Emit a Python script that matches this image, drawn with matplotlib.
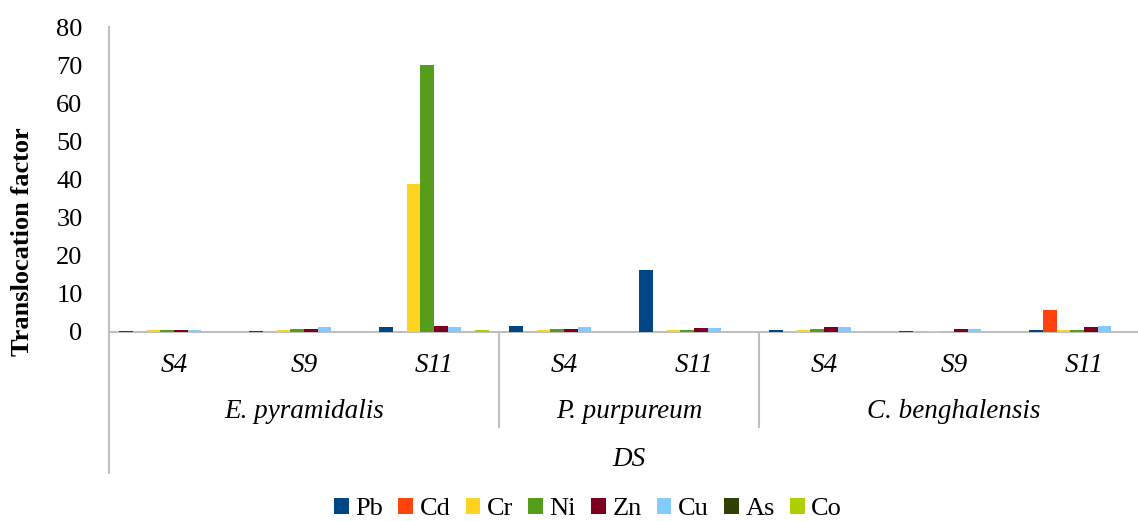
import matplotlib
matplotlib.use("Agg")
import matplotlib.pyplot as plt
import numpy as np
from matplotlib.transforms import blended_transform_factory
from matplotlib.lines import Line2D
from matplotlib.patches import Patch

plt.rcParams['font.family'] = ['Liberation Serif', 'DejaVu Serif']

sites = ["S4", "S9", "S11", "S4", "S11", "S4", "S9", "S11"]
species = ["E. pyramidalis", "P. purpureum", "C. benghalensis"]
species_counts = [3, 2, 3]
top_label = "DS"
metals = ["Pb", "Cd", "Cr", "Ni", "Zn", "Cu", "As", "Co"]
colors = ["#004586", "#FF420E", "#FFD320", "#579D1C", "#7E0021", "#83CAFF", "#314004", "#AECF00"]

Pb = [0.35, 0.35, 1.4, 1.5, 16.2, 0.6, 0.2, 0.6]
Cd = [0.0, 0.0, 0.0, 0.0, 0.0, 0.0, 0.0, 5.9]
Cr = [0.5, 0.4, 38.8, 0.6, 0.4, 0.6, 0.35, 0.6]
Ni = [0.5, 0.7, 70.0, 0.7, 0.4, 0.7, 0.1, 0.4]
Zn = [0.6, 0.9, 1.7, 0.9, 1.1, 1.4, 0.7, 1.4]
Cu = [0.6, 1.2, 1.2, 1.2, 1.0, 1.2, 0.9, 1.5]
As = [0.0, 0.0, 0.0, 0.0, 0.0, 0.0, 0.0, 0.0]
Co = [0.0, 0.0, 0.5, 0.0, 0.0, 0.0, 0.0, 0.0]
series = [Pb, Cd, Cr, Ni, Zn, Cu, As, Co]

W, H = 1138, 521
fig = plt.figure(figsize=(W / 100, H / 100), dpi=100)
x_left, x_right, y_top, y_bot = 109, 1149, 27, 332
ax = fig.add_axes([x_left / W, 1 - y_bot / H, (x_right - x_left) / W, (y_bot - y_top) / H])

n = len(sites)
x = np.arange(n)
nb = len(metals)
bw = 1.0 / (nb + 1.5)
for i, (vals, c) in enumerate(zip(series, colors)):
    ax.bar(x + (i - (nb - 1) / 2) * bw, vals, width=bw, color=c, edgecolor='none', linewidth=0)

ax.set_xlim(-0.5, n - 0.5)
ax.set_ylim(0, 80)
ax.set_yticks(np.arange(0, 81, 10))
ax.tick_params(axis='y', length=0, labelsize=19, pad=19)
ax.set_xticks([])
for s in ['top', 'right', 'left']:
    ax.spines[s].set_visible(False)
ax.spines['bottom'].set_color('#BFBFBF')
ax.spines['bottom'].set_linewidth(1.5)
ax.spines['bottom'].set_zorder(0.5)

def fy(py):
    return 1 - py / H

trans = blended_transform_factory(ax.transData, fig.transFigure)
for xi, s in zip(x, sites):
    ax.text(xi, fy(365), s, transform=trans, ha='center', va='center', fontsize=19.5, style='italic')
start = 0
bounds = [-0.5]
for sp, cnt in zip(species, species_counts):
    center = start + (cnt - 1) / 2
    ax.text(center, fy(412), sp, transform=trans, ha='center', va='center', fontsize=19.5, style='italic')
    start += cnt
    bounds.append(start - 0.5)
for b in bounds[1:-1]:
    ax.add_line(Line2D([b, b], [fy(332), fy(427)], transform=trans, color='#BFBFBF', lw=1.5, clip_on=False))
ax.text((n - 1) / 2, fy(459), top_label, transform=trans, ha='center', va='center', fontsize=19.5, style='italic')
fig.add_artist(Line2D([x_left / W, x_left / W], [fy(27), fy(473)], transform=fig.transFigure, color='#BFBFBF', lw=1.5))

fig.text(23 / W, fy(242), "Translocation factor", rotation=90, ha='center', va='center', fontsize=19, fontweight='bold')

handles = [Patch(facecolor=c, edgecolor='none') for c in colors]
fig.legend(handles, metals, loc='center', bbox_to_anchor=(588 / W, fy(509)), ncol=nb, frameon=False,
           fontsize=19, handlelength=0.55, handleheight=0.55, handletextpad=0.25, columnspacing=0.58)

fig.savefig("out.png", dpi=100)
